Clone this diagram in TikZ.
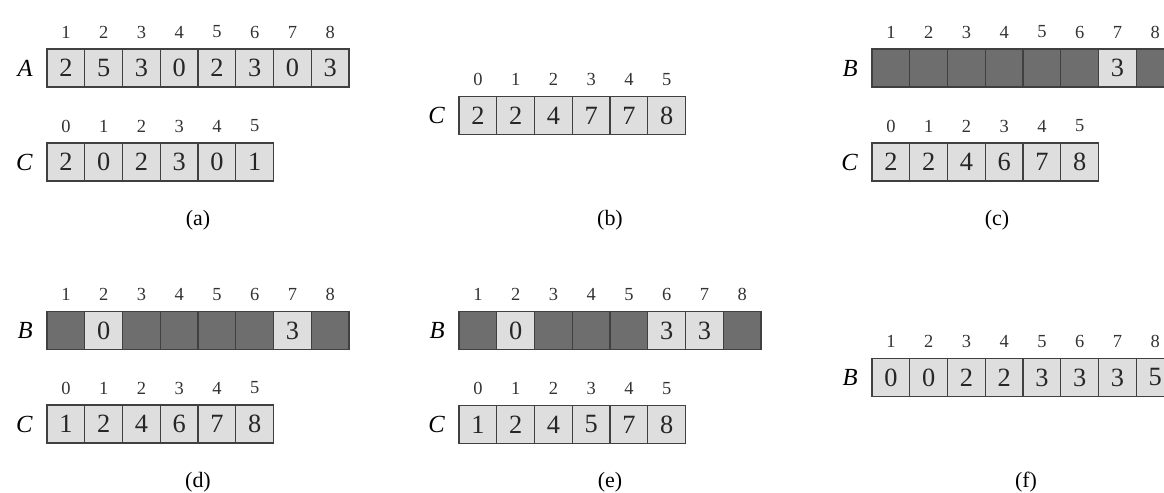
\documentclass[tikz,border=0pt]{standalone}
\usepackage{fontspec}
\setmainfont{Liberation Serif}
\usepackage{tikz}
\usetikzlibrary{positioning}

\definecolor{cellgray}{gray}{0.87}
\definecolor{celldark}{gray}{0.43}

% one array: name, letter, left x, centre y, first index, value/style list
\newcommand{\drawrow}[6]{%
  \foreach \v/\s [count=\i] in {#6} {
    \pgfmathtruncatemacro{\k}{\i-1+#5}
    \node[cell,\s] (#1-\i) at ({#3+(\i-0.5)*37.75},#4) {\v};
    \node[idx] (#1-n\i) at ([yshift=0.34cm]#1-\i.north) {\k};
  }
  \node[arrname, left=0.28cm of #1-1] (#1-lab) {#2};
}

\begin{document}
\begin{tikzpicture}[x=0.02cm, y=-0.02cm,
    cell/.style={draw=black!75, line width=0.6pt, minimum width=0.755cm,
      minimum height=0.76cm, inner sep=0pt, outer sep=0pt,
      font=\fontsize{15}{15}\selectfont, text=black!85},
    lt/.style={fill=cellgray},
    dk/.style={fill=celldark},
    idx/.style={inner sep=0pt, font=\fontsize{10.5}{10.5}\selectfont, text=black!80},
    arrname/.style={inner sep=0pt, font=\fontsize{14}{14}\selectfont\itshape},
    capt/.style={font=\fontsize{12.5}{12.5}\selectfont}]
    \useasboundingbox (0,0) rectangle (1164,493);
    \clip (0,0) rectangle (1164,493);

    % (a)
    \drawrow{aA}{A}{47}{68}{1}{2/lt,5/lt,3/lt,0/lt,2/lt,3/lt,0/lt,3/lt}
    \drawrow{aC}{C}{47}{162}{0}{2/lt,0/lt,2/lt,3/lt,0/lt,1/lt}
    \node[capt] (capa) at (198,220) {(a)};

    % (b)
    \drawrow{bC}{C}{459}{115.5}{0}{2/lt,2/lt,4/lt,7/lt,7/lt,8/lt}
    \node[capt] (capb) at (610,220) {(b)};

    % (c)
    \drawrow{cB}{B}{872}{68}{1}{/dk,/dk,/dk,/dk,/dk,/dk,3/lt,/dk}
    \drawrow{cC}{C}{872}{162}{0}{2/lt,2/lt,4/lt,6/lt,7/lt,8/lt}
    \node[capt] (capc) at (997,220) {(c)};

    % (d)
    \drawrow{dB}{B}{47}{330.5}{1}{/dk,0/lt,/dk,/dk,/dk,/dk,3/lt,/dk}
    \drawrow{dC}{C}{47}{424}{0}{1/lt,2/lt,4/lt,6/lt,7/lt,8/lt}
    \node[capt] (capd) at (198,482) {(d)};

    % (e)
    \drawrow{eB}{B}{459}{330.5}{1}{/dk,0/lt,/dk,/dk,/dk,3/lt,3/lt,/dk}
    \drawrow{eC}{C}{459}{424.5}{0}{1/lt,2/lt,4/lt,5/lt,7/lt,8/lt}
    \node[capt] (cape) at (610,482) {(e)};

    % (f)
    \drawrow{fB}{B}{872}{377.5}{1}{0/lt,0/lt,2/lt,2/lt,3/lt,3/lt,3/lt,5/lt}
    \node[capt] (capf) at (1026,482) {(f)};
\end{tikzpicture}
\end{document}
